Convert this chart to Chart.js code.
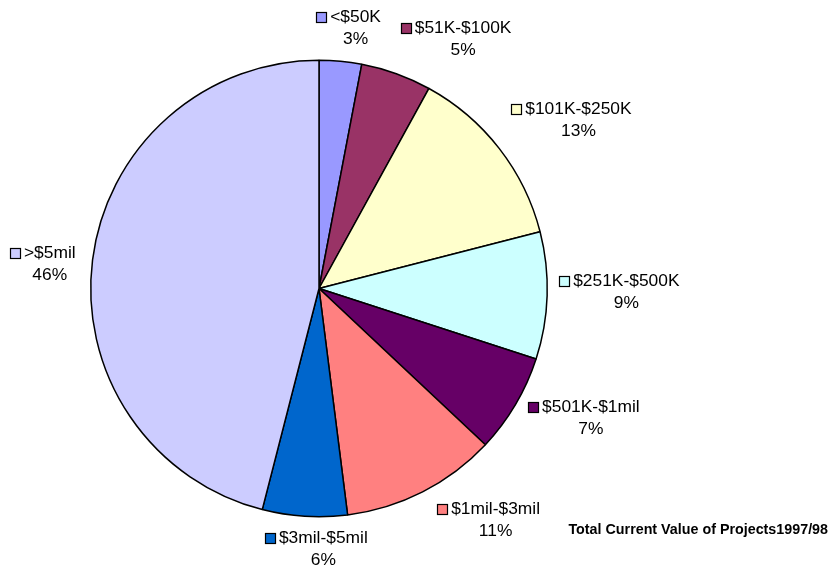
<!DOCTYPE html>
<html>
<head>
<meta charset="utf-8">
<script src="https://cdn.jsdelivr.net/npm/chart.js@4.4.1/dist/chart.umd.min.js"></script>
<style>
  html, body { margin: 0; padding: 0; background: #ffffff; }
  #wrap { width: 832px; height: 569px; position: relative; }
</style>
</head>
<body>
<div id="wrap"><canvas id="c" width="832" height="569"></canvas></div>
<script>
// Project value bands and their share of the total (percent)
const categories = ['<$50K', '$51K-$100K', '$101K-$250K', '$251K-$500K', '$501K-$1mil', '$1mil-$3mil', '$3mil-$5mil', '>$5mil'];
const shares = [3, 5, 13, 9, 7, 11, 6, 46];
const sliceColors = ['#9999FF', '#993366', '#FFFFCC', '#CCFFFF', '#660066', '#FF8080', '#0066CC', '#CCCCFF'];
const chartTitle = 'Total Current Value of Projects1997/98';

// small per-label shifts (px) applied after the outside-end placement
const labelNudge = [[-2, -1], [1, -3], [4, 0], [2, -6], [4, -14], [10, -3], [22, 1], [-7, 14]];

const LABEL_FONT = '17.4px "Liberation Sans", Arial, sans-serif';
const TITLE_FONT = 'bold 14.3px "Liberation Sans", Arial, sans-serif';

// Draws "■ name / pct%" blocks outside each slice, plus the caption
const sliceLabels = {
  id: 'sliceLabels',
  afterDatasetsDraw(chart) {
    const ctx = chart.ctx;
    const meta = chart.getDatasetMeta(0);
    const data = chart.data.datasets[0].data;
    const total = data.reduce((a, b) => a + b, 0);
    const clamp = v => Math.max(-1, Math.min(1, v));
    ctx.save();
    ctx.font = LABEL_FONT;
    ctx.textBaseline = 'middle';
    meta.data.forEach((arc, i) => {
      const p = arc.getProps(['x', 'y', 'startAngle', 'endAngle', 'outerRadius'], true);
      const mid = (p.startAngle + p.endAngle) / 2;
      const c = Math.cos(mid), s = Math.sin(mid);
      const R = p.outerRadius + 10;
      const ax = p.x + R * c, ay = p.y + R * s;
      const name = chart.data.labels[i];
      const pct = Math.round(data[i] / total * 100) + '%';
      const tw = ctx.measureText(name).width;
      const sq = 10, gap = 4, lh = 22;
      const W = sq + gap + tw, H = lh * 2;
      const bx = ax + clamp(c * 3) * W / 2 + labelNudge[i][0];
      const by = ay + clamp(s * 3) * H / 2 + labelNudge[i][1];
      const left = bx - W / 2;
      const y1 = by - lh / 2, y2 = by + lh / 2;
      // legend key square
      ctx.fillStyle = sliceColors[i];
      ctx.fillRect(Math.round(left) + 0.5, Math.round(y1 - 5) + 0.5, sq, sq);
      ctx.strokeStyle = '#000';
      ctx.lineWidth = 1.2;
      ctx.strokeRect(Math.round(left) + 0.5, Math.round(y1 - 5) + 0.5, sq, sq);
      // name and percentage
      ctx.fillStyle = '#000';
      ctx.textAlign = 'left';
      ctx.fillText(name, left + sq + gap, y1);
      ctx.textAlign = 'center';
      ctx.fillText(pct, left + sq + gap + tw / 2, y2);
    });
    // caption at bottom right
    ctx.font = TITLE_FONT;
    ctx.textAlign = 'right';
    ctx.fillStyle = '#000';
    ctx.fillText(chartTitle, 828, 530);
    ctx.restore();
  }
};

new Chart(document.getElementById('c'), {
  type: 'pie',
  data: {
    labels: categories,
    datasets: [{
      data: shares,
      backgroundColor: sliceColors,
      borderColor: '#000000',
      borderWidth: 1.5
    }]
  },
  options: {
    responsive: false,
    animation: false,
    layout: { padding: { left: 90, right: 284, top: 59.5, bottom: 51.5 } },
    plugins: {
      legend: { display: false },
      tooltip: { enabled: false },
      title: { display: false }
    }
  },
  plugins: [sliceLabels]
});
</script>
</body>
</html>
